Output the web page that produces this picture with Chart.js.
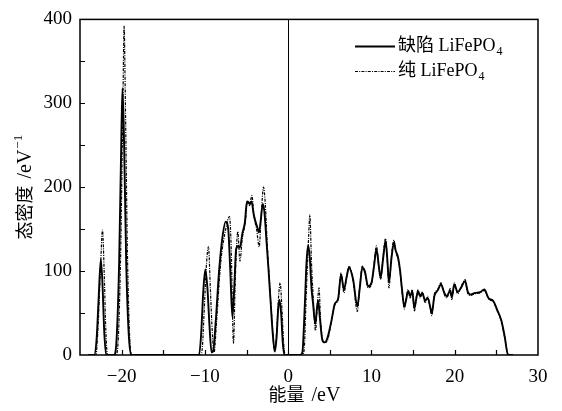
<!DOCTYPE html>
<html>
<head>
<meta charset="utf-8">
<script src="https://cdn.jsdelivr.net/npm/chart.js@4.4.0/dist/chart.umd.min.js"></script>
<style>
  html, body { margin: 0; padding: 0; background: #fff; }
  #wrap { width: 562px; height: 411px; position: relative; }
</style>
</head>
<body>
<div id="wrap"><canvas id="c" width="562" height="411"></canvas></div>
<script>
// ---- data ----
const defectE = [-24,-23.3,-23.0,-22.75,-22.5,-22.3,-22.1,-21.85,-20.9,-20.6,-20.3,-20.05,-19.9,-19.7,-19.45,-19.15,-18.85,
  -10.7,-10.45,-10.2,-9.95,-9.7,-9.45,-9.2,-9.0,-8.7,-8.3,-7.9,-7.5,-7.2,-6.95,-6.7,-6.5,-6.25,-6.0,-5.8,-5.5,-5.2,-4.95,-4.75,-4.6,-4.4,-4.15,-3.95,-3.7,-3.5,-3.3,-3.05,-2.85,-2.6,-2.35,-2.1,-1.85,-1.6,-1.4,-1.2,-1.05,-0.85,-0.65,-0.45,
  1.4,1.7,2.0,2.2,2.4,2.6,2.8,3.0,3.25,3.45,3.6,3.8,4.1,4.4,4.7,5.2,5.6,6.0,6.35,6.7,7.0,7.3,7.8,8.3,8.6,8.9,9.2,9.6,10.0,10.3,10.6,10.9,11.1,11.4,11.7,11.9,12.1,12.4,12.7,12.9,13.2,13.45,13.65,13.95,14.15,14.4,14.65,14.9,15.15,15.4,15.6,15.85,16.1,16.45,16.75,17.0,17.25,17.55,17.95,18.35,18.75,19.05,19.45,19.65,19.95,20.35,20.75,21.25,21.55,21.9,22.45,23.05,23.55,24.05,24.65,25.05,25.6,26.0,26.4,27];
const defectDOS = [0,0,20,70,114,85,30,0,0,20,110,250,318,250,110,25,0,
  0,25,75,102,80,35,3,5,40,100,140,159,150,100,45,75,126,130,128,145,158,183,182,180,183,168,160,152,146,160,180,170,135,100,62,25,4,20,55,66,50,15,0,
  0,3,60,110,131,115,80,60,37,55,65,45,18,15,20,41,61,67,96,78,92,104,90,58,80,104,100,82,86,105,126,105,92,115,136,115,87,115,134,125,116,100,80,58,65,76,70,76,56,68,76,70,74,65,68,60,50,70,77,84,74,70,77,69,84,75,80,88,76,72,74,75,78,68,64,55,41,22,0,0];

const pureE = [-24,-23.1,-22.85,-22.55,-22.3,-22.1,-21.9,-21.7,-20.7,-20.4,-20.1,-19.85,-19.7,-19.55,-19.3,-19.05,-18.8,
  -10.5,-10.3,-10.1,-9.8,-9.57,-9.35,-9.1,-8.9,-8.6,-8.1,-7.5,-7.05,-6.85,-6.57,-6.35,-6.05,-5.8,-5.5,-5.15,-4.9,-4.65,-4.36,-4.1,-3.8,-3.48,-3.25,-2.96,-2.75,-2.5,-2.2,-1.9,-1.65,-1.4,-1.15,-0.96,-0.75,-0.55,-0.35,
  1.6,1.9,2.2,2.45,2.6,2.8,3.0,3.28,3.5,3.7,3.9,4.2,4.5,4.8,5.2,5.6,6.0,6.35,6.7,7.0,7.3,7.8,8.3,8.6,8.9,9.2,9.6,10.0,10.3,10.6,10.9,11.1,11.4,11.7,11.9,12.1,12.4,12.7,12.9,13.2,13.45,13.65,13.95,14.15,14.4,14.65,14.9,15.15,15.4,15.6,15.85,16.1,16.45,16.75,17.0,17.25,17.55,17.95,18.35,18.75,19.05,19.45,19.65,19.95,20.35,20.75,21.25,21.55,21.9,22.45,23.05,23.55,24.05,24.65,25.05,25.6,26.0,26.45,27];
const pureDOS = [0,0,30,100,149,100,30,0,0,20,130,300,392,300,120,25,0,
  0,10,50,110,129,80,25,3,40,110,150,165,130,14,90,147,112,140,158,182,178,190,165,150,129,165,200,180,130,80,35,5,25,70,86,55,15,0,
  0,5,80,140,167,110,70,29,60,80,40,16,15,20,40,60,66,98,74,92,106,88,52,82,106,98,80,84,108,130,102,90,118,139,112,80,118,137,124,114,98,78,55,66,78,68,78,52,70,78,68,75,62,70,58,47,72,78,86,72,68,79,66,86,73,81,90,74,71,73,74,77,67,63,54,40,21,0,0];

const xTickLabels = [-20, -10, 0, 10, 20, 30];
const yTickLabels = [0, 100, 200, 300, 400];
const xMarkTicks = [-20, -15, -10, -5, 0, 5, 10, 15, 20, 25];
const yMarkTicks = [50, 100, 150, 200, 250, 300, 350];
const fermiLevel = 0;
const seriesNames = ['缺陷 LiFePO', '纯 LiFePO'];
const xTitle = ['能量', '/eV', ''];
const yTitle = ['态密度', '/eV', '\u22121'];

// ---- chart ----
const toPts = (xs, ys) => xs.map((x, i) => ({ x: x, y: ys[i] }));
const serif = "'Liberation Serif', 'DejaVu Serif', serif";
const cjk = "'Noto Sans CJK SC', sans-serif";
const mixFont = "'Liberation Serif', 'Noto Sans CJK SC', serif";

// draws [cjk part, latin part, superscript] horizontally starting at 0, returns width
function titleParts(ctx, parts, draw) {
  let x = 0;
  ctx.textBaseline = 'alphabetic';
  ctx.textAlign = 'left';
  ctx.font = '18px ' + cjk;
  if (draw) ctx.fillText(parts[0], x, 0);
  x += ctx.measureText(parts[0]).width + 7;
  ctx.font = '20px ' + serif;
  if (draw) ctx.fillText(parts[1], x, 0);
  x += ctx.measureText(parts[1]).width + 1;
  if (parts[2]) {
    ctx.font = '13px ' + serif;
    if (draw) ctx.fillText(parts[2], x, -9);
    x += ctx.measureText(parts[2]).width;
  }
  return x;
}

const framePlugin = {
  id: 'frame',
  afterDatasetsDraw(chart) {
    const { ctx, chartArea: a, scales } = chart;
    ctx.save();
    ctx.strokeStyle = '#000';
    ctx.lineWidth = 1;
    // Fermi level line
    const xf = Math.round(scales.x.getPixelForValue(fermiLevel)) + 0.5;
    ctx.beginPath(); ctx.moveTo(xf, a.top); ctx.lineTo(xf, a.bottom); ctx.stroke();
    // box
    ctx.lineWidth = 1.5;
    ctx.strokeRect(a.left, a.top, a.right - a.left, a.bottom - a.top);
    // inward ticks
    ctx.lineWidth = 1.2;
    ctx.beginPath();
    xMarkTicks.forEach(v => {
      const px = Math.round(scales.x.getPixelForValue(v)) + 0.5;
      ctx.moveTo(px, a.bottom); ctx.lineTo(px, a.bottom - 5);
    });
    yMarkTicks.forEach(v => {
      const py = Math.round(scales.y.getPixelForValue(v)) + 0.5;
      ctx.moveTo(a.left, py); ctx.lineTo(a.left + 5, py);
    });
    ctx.stroke();
    // legend
    const lx0 = 355, lx1 = 395, ly = [46, 71];
    chart.data.datasets.forEach((ds, i) => {
      if (i > 1) return;
      ctx.save();
      ctx.strokeStyle = '#000';
      ctx.lineWidth = ds.borderWidth;
      ctx.setLineDash(ds.borderDash || []);
      ctx.beginPath(); ctx.moveTo(lx0, ly[i] + 0.5); ctx.lineTo(lx1, ly[i] + 0.5); ctx.stroke();
      ctx.restore();
      ctx.fillStyle = '#000';
      ctx.textBaseline = 'middle';
      ctx.textAlign = 'left';
      ctx.font = '18px ' + mixFont;
      const t = seriesNames[i];
      ctx.fillText(t, lx1 + 3, ly[i]);
      const w = ctx.measureText(t).width;
      ctx.font = '12px ' + serif;
      ctx.fillText('4', lx1 + 3 + w + 1, ly[i] + 6);
    });
    // axis titles
    ctx.fillStyle = '#000';
    const cx = (a.left + a.right) / 2;
    const wx = titleParts(ctx, xTitle, false);
    ctx.save();
    ctx.translate(cx - 4 - wx / 2, 401);
    titleParts(ctx, xTitle, true);
    ctx.restore();
    const cy = (a.top + a.bottom) / 2;
    const wy = titleParts(ctx, yTitle, false);
    ctx.save();
    ctx.translate(31, cy + wy / 2);
    ctx.rotate(-Math.PI / 2);
    titleParts(ctx, yTitle, true);
    ctx.restore();
    ctx.restore();
  }
};

new Chart(document.getElementById('c'), {
  type: 'scatter',
  data: {
    datasets: [
      { label: seriesNames[0] + '4', data: toPts(defectE, defectDOS), showLine: true,
        borderColor: '#000', borderWidth: 1.9, pointRadius: 0, cubicInterpolationMode: 'monotone', order: 1 },
      { label: seriesNames[1] + '4', data: toPts(pureE, pureDOS), showLine: true,
        borderColor: '#000', borderWidth: 1.2, borderDash: [3, 1.2, 1, 1.2], pointRadius: 0, cubicInterpolationMode: 'monotone', order: 2 }
    ]
  },
  options: {
    responsive: false,
    animation: false,
    layout: { padding: { top: 15, right: 24, left: 0, bottom: 0 } },
    plugins: { legend: { display: false }, tooltip: { enabled: false } },
    scales: {
      x: {
        type: 'linear', min: -25, max: 30,
        grid: { display: false, drawTicks: false },
        border: { display: false },
        afterBuildTicks: s => { s.ticks = xTickLabels.map(v => ({ value: v })); },
        afterFit: s => { s.height = 56; },
        ticks: { color: '#000', padding: 11, font: { family: serif, size: 19 },
          callback: v => String(v).replace('-', '\u2212') }
      },
      y: {
        type: 'linear', min: 0, max: 400,
        grid: { display: false, drawTicks: false },
        border: { display: false },
        afterBuildTicks: s => { s.ticks = yTickLabels.map(v => ({ value: v })); },
        afterFit: s => { s.width = 80; },
        ticks: { color: '#000', padding: 8, font: { family: serif, size: 19 } }
      }
    }
  },
  plugins: [framePlugin]
});
</script>
</body>
</html>
